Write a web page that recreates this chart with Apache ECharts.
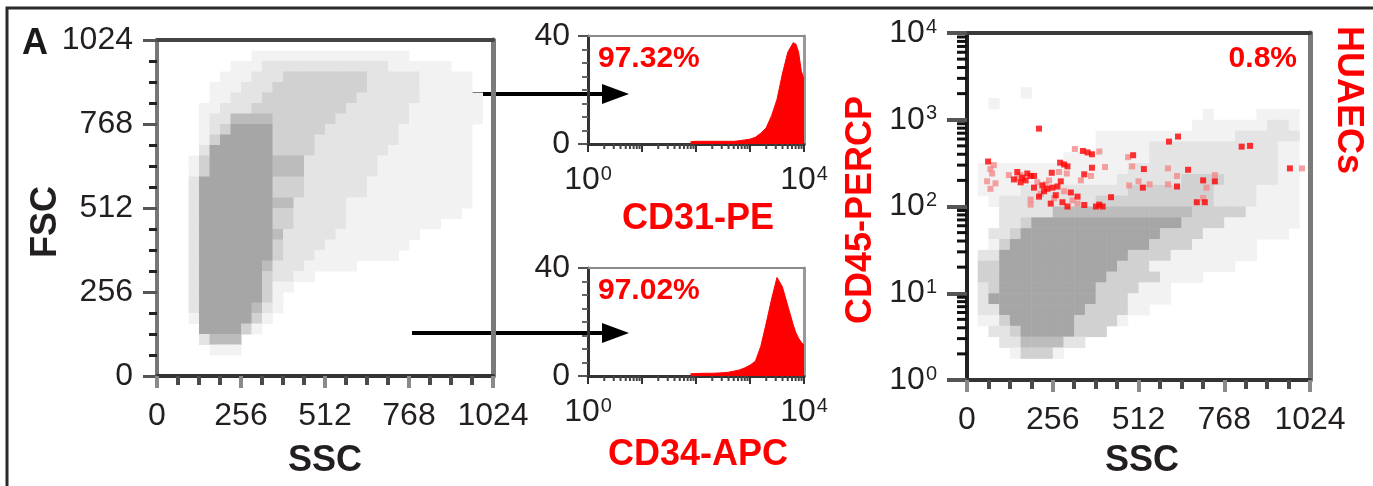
<!DOCTYPE html>
<html><head><meta charset="utf-8">
<script src="https://cdn.jsdelivr.net/npm/echarts/dist/echarts.min.js"></script>
<style>html,body{margin:0;padding:0;background:#fff}#c{width:1373px;height:486px}</style>
</head><body><div id="c"></div>
<script>
const FONT = '"Liberation Sans", Arial, Helvetica, sans-serif';

// ---------- DATA ----------
// Linear tick labels (SSC / FSC channels)
const CHANNEL_TICKS = [0, 256, 512, 768, 1024];
// Log decade tick values
const DECADES = [1, 10, 100, 1000, 10000];
const LOG_MINOR_TICKS = [2,3,4,5,6,7,8,9,20,30,40,50,60,70,80,90,200,300,400,500,600,700,800,900,2000,3000,4000,5000,6000,7000,8000,9000];

// FSC vs SSC density (rows: FSC 1024 -> 0 in 32-channel bins; cols: SSC 0 -> 1024), level 0..5
const FSC_SSC_DENSITY = [
"00000000000000000000000000000000",
"00000000011111111111111100000000",
"00000001112222222222221111110000",
"00000011122233333333222221111100",
"00000111222333333333222221111100",
"00000112223333333332222221111110",
"00001122233333333322222211111110",
"00001224444333333222222211111110",
"00001235555333332222222111111100",
"00001355555333322222222111111100",
"00002555555333322222221111111100",
"00013555555444222222211111111100",
"00013555555444222222211111111100",
"00025555555333222222111111111100",
"00025555555333222222111111111100",
"00025555555442222211111111111100",
"00025555555332222211111111111000",
"00025555555332222211111111100000",
"00025555555422222111111110000000",
"00025555555322221111111100000000",
"00025555555322211111111000000000",
"00025555554222111110000000000000",
"00025555553221100000000000000000",
"00025555553110000000000000000000",
"00025555553100000000000000000000",
"00025555542100000000000000000000",
"00015555531000000000000000000000",
"00005555310000000000000000000000",
"00002444000000000000000000000000",
"00000111000000000000000000000000",
"00000000000000000000000000000000",
"00000000000000000000000000000000"
];

// CD45 (log, rows 10^4 -> 10^0 in 1/8 decade) vs SSC (32-channel bins), level 0..5
const CD45_SSC_DENSITY = [
"00000000000000000000000000000000",
"00000000000000000000000000000000",
"00000000000000000000000000000000",
"00000000000000000000000000000000",
"00000000000000000000000000000000",
"00000100000000000000000000000000",
"00100000000000000000000000000000",
"00000000000000000000001000011110",
"00000000000000000000011111112210",
"00000000000011111111111112222220",
"00000000000011111222222222222110",
"00000000011111111222222222222110",
"01111111111111122222222222222110",
"01111111111111222222333322222110",
"01111222222222233333333222211110",
"00122222222233333333333222211110",
"00022222444444444444433333111110",
"00022355555555555555333311111110",
"00223555555555555533331111111100",
"00135555555555555333311111100000",
"02255555555555533331111111100000",
"03355555555555333111111110000000",
"03355555555553333311110000000000",
"02355555555533331110000000000000",
"02555555555533311110000000000000",
"02255555555333311000000000000000",
"01135555553333100000000000000000",
"00223555553330000000000000000000",
"00022444422000000000000000000000",
"00001333100000000000000000000000",
"00000000000000000000000000000000",
"00000000000000000000000000000000"
];

// HUAEC events (SSC, CD45-PerCP), strong and pale red
const HUAEC_STRONG = [
[215,790],[630,640],[603,560],[346,437],[373,400],[496,390],[63,330],[278,320],[300,290],[373,280],
[528,270],[660,265],[150,250],[180,240],[200,225],[253,245],[350,235],[140,205],[175,200],[280,195],
[705,200],[740,195],[200,165],[240,160],[270,170],[525,165],[627,170],[330,130],[430,128],[250,108],
[300,100],[350,104],[405,100],[385,100],[710,112],[964,275],[820,490],[845,500],[686,112],[165,215],
[230,150],[215,130],[290,305],[360,420],[190,225],[255,165],[285,112],[395,105],[225,175],[265,135],
[310,145],[160,190]
];
const HUAEC_PALE = [
[322,460],[395,430],[80,300],[70,270],[412,285],[600,275],[1000,275],[160,230],[298,240],[370,225],
[627,225],[740,230],[60,195],[85,185],[210,190],[340,200],[512,195],[70,160],[220,140],[290,150],
[715,165],[190,120],[260,125],[705,125],[190,105],[330,108],[600,180],[484,175],[493,290],[481,370],
[150,215],[235,180],[315,118],[75,240],[545,180],[245,200],[125,230],[275,250]
];

// Histograms: fluorescence intensity bins and event counts
const HIST_INTENSITY = [79.4,100,125.9,158.5,199.5,251.2,316.2,398.1,501.2,631,794.3,1000,1259,1585,1995,2512,3162,3981,5012,6310,7079,7943,8913,10000];
const CD31_COUNTS = [0.8,1,1,1,1,1,1,1,1,1.2,1.5,1.8,2.5,4,6,10.5,16.5,26,34,37.5,37,34,27,24];
const CD34_COUNTS = [0.8,0.9,1,1,1,1.1,1.2,1.4,1.8,2.2,3,4,5.5,11,19.5,28.5,36.5,33,26,19,16,14,12.5,11.5];

// ---------- BUILD ----------
const BIN = 32;
const SHADES = ['rgba(0,0,0,0)', '#f2f2f2', '#e4e4e4', '#d1d1d1', '#bcbcbc', '#a6a6a6'];

function buildLinear(rows) {
  const out = [];
  rows.forEach((row, r) => {
    for (let c = 0; c < row.length; c++) {
      const lv = +row[c];
      if (lv) out.push([c * BIN, 1024 - (r + 1) * BIN, lv]);
    }
  });
  return out;
}
function buildLog(rows) {
  const out = [];
  const n = rows.length;
  rows.forEach((row, r) => {
    const lo = Math.pow(10, 4 - 4 * (r + 1) / n), hi = Math.pow(10, 4 - 4 * r / n);
    for (let c = 0; c < row.length; c++) {
      const lv = +row[c];
      if (lv) out.push([c * BIN, lo, hi, lv]);
    }
  });
  return out;
}
const zip = (xs, ys) => xs.map((x, i) => [x, ys[i]]);

const numLabel = {fontFamily: FONT, fontSize: 32, color: '#231f20', formatter: v => String(v)};
const supRich = {
  b: {fontFamily: FONT, fontSize: 32, color: '#231f20'},
  s: {fontFamily: FONT, fontSize: 20, color: '#231f20', verticalAlign: 'top', padding: [0, 0, 0, 1]}
};
const supFmt = v => '{b|10}{s|' + Math.round(Math.log10(v)) + '}';
const endsSupFmt = v => { const e = Math.round(Math.log10(v)); return (e === 0 || e === 4) ? '{b|10}{s|' + e + '}' : ''; };

function borderX(grid, color, width) {
  return {gridIndex: grid, type: 'value', position: 'top', min: 0, max: 1, axisLine: {show: true, onZero: false, lineStyle: {color, width}},
    axisTick: {show: false}, axisLabel: {show: false}, splitLine: {show: false}};
}
function borderY(grid, color, width) {
  return {gridIndex: grid, type: 'value', position: 'right', min: 0, max: 1, axisLine: {show: true, onZero: false, lineStyle: {color, width}},
    axisTick: {show: false}, axisLabel: {show: false}, splitLine: {show: false}};
}
function channelX(grid) {
  return {gridIndex: grid, type: 'value', min: 0, max: 1024, interval: 256,
    axisLine: {onZero: false, lineStyle: {color: '#333', width: 4}},
    axisTick: {show: true, length: 12, lineStyle: {color: '#8a8a8a', width: 4}},
    minorTick: {show: true, splitNumber: 4, length: 9, lineStyle: {color: '#4a4a4a', width: 4}},
    splitLine: {show: false}, minorSplitLine: {show: false},
    axisLabel: Object.assign({margin: 24, showMinLabel: true, showMaxLabel: true}, numLabel)};
}
function histX(grid) {
  return {gridIndex: grid, type: 'log', logBase: 10, min: 1, max: 10000,
    axisLine: {onZero: false, lineStyle: {color: '#333', width: 3}},
    axisTick: {show: true, length: 8, lineStyle: {color: '#333', width: 2}},
    splitLine: {show: false},
    axisLabel: {margin: 20, formatter: endsSupFmt, rich: supRich, showMinLabel: true, showMaxLabel: true}};
}
function histY(grid) {
  return {gridIndex: grid, type: 'value', min: 0, max: 40, interval: 40,
    axisLine: {onZero: false, lineStyle: {color: '#333', width: 3}},
    axisTick: {show: true, length: 10, lineStyle: {color: '#555', width: 2}},
    minorTick: {show: true, splitNumber: 8, length: 6, lineStyle: {color: '#666', width: 2}},
    splitLine: {show: false}, minorSplitLine: {show: false},
    axisLabel: Object.assign({margin: 18}, numLabel)};
}

const option = {
  animation: false,
  backgroundColor: '#ffffff',
  grid: [
    {left: 157, top: 40, width: 336, height: 336},
    {left: 588, top: 36, width: 216, height: 108},
    {left: 588, top: 268, width: 216, height: 108},
    {left: 967, top: 33, width: 343, height: 347}
  ],
  xAxis: [
    channelX(0),
    borderX(0, '#444', 4),
    histX(1),
    borderX(1, '#8a8a8a', 2),
    histX(2),
    borderX(2, '#8a8a8a', 2),
    channelX(3),
    borderX(3, '#3a3a3a', 4)
  ],
  yAxis: [
    {gridIndex: 0, type: 'value', min: 0, max: 1024, interval: 256,
      axisLine: {onZero: false, lineStyle: {color: '#777', width: 4}},
      axisTick: {show: true, length: 14, lineStyle: {color: '#555', width: 3}},
      minorTick: {show: true, splitNumber: 4, length: 8, lineStyle: {color: '#222', width: 3}},
      splitLine: {show: false}, minorSplitLine: {show: false},
      axisLabel: Object.assign({margin: 24}, numLabel)},
    borderY(0, '#7a7a7a', 5),
    histY(1),
    borderY(1, '#999', 3),
    histY(2),
    borderY(2, '#999', 3),
    {gridIndex: 3, type: 'log', logBase: 10, min: 1, max: 10000,
      axisLine: {onZero: false, lineStyle: {color: '#222', width: 4}},
      axisTick: {show: true, length: 20, lineStyle: {color: '#555', width: 4}},
      splitLine: {show: false},
      axisLabel: {margin: 30, formatter: supFmt, rich: supRich}},
    borderY(3, '#7a7a7a', 5)
  ],
  series: [
    {type: 'custom', xAxisIndex: 0, yAxisIndex: 0, clip: true, silent: true,
      data: buildLinear(FSC_SSC_DENSITY),
      renderItem: (p, api) => {
        const x0 = api.value(0), y0 = api.value(1), lv = api.value(2);
        const a = api.coord([x0, y0 + BIN]), b = api.coord([x0 + BIN, y0]);
        return {type: 'rect', shape: {x: a[0], y: a[1], width: b[0] - a[0] + 0.5, height: b[1] - a[1] + 0.5}, style: {fill: SHADES[lv]}};
      }},
    {type: 'line', xAxisIndex: 2, yAxisIndex: 2, data: zip(HIST_INTENSITY, CD31_COUNTS), symbol: 'none',
      lineStyle: {color: '#ff0000', width: 1}, areaStyle: {color: '#ff0000', opacity: 1}, silent: true},
    {type: 'line', xAxisIndex: 4, yAxisIndex: 4, data: zip(HIST_INTENSITY, CD34_COUNTS), symbol: 'none',
      lineStyle: {color: '#ff0000', width: 1}, areaStyle: {color: '#ff0000', opacity: 1}, silent: true},
    {type: 'custom', xAxisIndex: 2, yAxisIndex: 2, clip: false, silent: true,
      data: LOG_MINOR_TICKS.map(v => [v, 0]),
      renderItem: (p, api) => { const q = api.coord([api.value(0), 0]);
        return {type: 'line', shape: {x1: q[0], y1: q[1], x2: q[0], y2: q[1] + 5}, style: {stroke: '#444', lineWidth: 2}}; }},
    {type: 'custom', xAxisIndex: 4, yAxisIndex: 4, clip: false, silent: true,
      data: LOG_MINOR_TICKS.map(v => [v, 0]),
      renderItem: (p, api) => { const q = api.coord([api.value(0), 0]);
        return {type: 'line', shape: {x1: q[0], y1: q[1], x2: q[0], y2: q[1] + 5}, style: {stroke: '#444', lineWidth: 2}}; }},
    {type: 'custom', xAxisIndex: 6, yAxisIndex: 6, clip: true, silent: true,
      data: buildLog(CD45_SSC_DENSITY),
      encode: {x: 0, y: 1},
      renderItem: (p, api) => {
        const x0 = api.value(0), lo = api.value(1), hi = api.value(2), lv = api.value(3);
        const a = api.coord([x0, hi]), b = api.coord([x0 + BIN, lo]);
        return {type: 'rect', shape: {x: a[0], y: a[1], width: b[0] - a[0] + 0.5, height: b[1] - a[1] + 0.5}, style: {fill: SHADES[lv]}};
      }},
    {type: 'custom', xAxisIndex: 6, yAxisIndex: 6, clip: false, silent: true,
      data: LOG_MINOR_TICKS.map(v => [0, v]),
      renderItem: (p, api) => { const q = api.coord([0, api.value(1)]);
        return {type: 'line', shape: {x1: q[0] - 10, y1: q[1], x2: q[0], y2: q[1]}, style: {stroke: '#111', lineWidth: 3}}; }},
    {type: 'scatter', xAxisIndex: 6, yAxisIndex: 6, data: HUAEC_PALE, symbol: 'rect', symbolSize: 6,
      itemStyle: {color: '#f48a8a'}, silent: true, z: 4},
    {type: 'scatter', xAxisIndex: 6, yAxisIndex: 6, data: HUAEC_STRONG, symbol: 'rect', symbolSize: 6,
      itemStyle: {color: '#ff0000'}, silent: true, z: 5}
  ],
  graphic: [
    {type: 'polyline', shape: {points: [[7, 486], [7, 8], [1373, 8]]}, style: {stroke: '#2a2a2a', lineWidth: 3, fill: null}, silent: true},
    {type: 'line', shape: {x1: 412, y1: 94, x2: 606, y2: 94}, style: {stroke: '#000', lineWidth: 4}, silent: true},
    {type: 'polygon', shape: {points: [[602, 84], [629, 94], [602, 104]]}, style: {fill: '#000'}, silent: true},
    {type: 'line', shape: {x1: 412, y1: 333, x2: 606, y2: 333}, style: {stroke: '#000', lineWidth: 4}, silent: true},
    {type: 'polygon', shape: {points: [[602, 323], [629, 333], [602, 343]]}, style: {fill: '#000'}, silent: true},
    {type: 'text', x: 35, y: 44, style: {text: 'A', font: 'bold 36px ' + FONT, fill: '#1a1a1a', align: 'center', verticalAlign: 'middle'}},
    {type: 'text', x: 46, y: 222, rotation: Math.PI / 2, style: {text: 'FSC', font: 'bold 36px ' + FONT, fill: '#231f20', align: 'center', verticalAlign: 'middle'}},
    {type: 'text', x: 325, y: 461, style: {text: 'SSC', font: 'bold 36px ' + FONT, fill: '#231f20', align: 'center', verticalAlign: 'middle'}},
    {type: 'text', x: 1142, y: 461, style: {text: 'SSC', font: 'bold 36px ' + FONT, fill: '#231f20', align: 'center', verticalAlign: 'middle'}},
    {type: 'text', x: 698, y: 219, style: {text: 'CD31-PE', font: 'bold 36px ' + FONT, fill: '#ff0000', align: 'center', verticalAlign: 'middle'}},
    {type: 'text', x: 698, y: 455, style: {text: 'CD34-APC', font: 'bold 36px ' + FONT, fill: '#ff0000', align: 'center', verticalAlign: 'middle'}},
    {type: 'text', x: 598, y: 59, style: {text: '97.32%', font: 'bold 30px ' + FONT, fill: '#ff0000', align: 'left', verticalAlign: 'middle'}},
    {type: 'text', x: 598, y: 291, style: {text: '97.02%', font: 'bold 30px ' + FONT, fill: '#ff0000', align: 'left', verticalAlign: 'middle'}},
    {type: 'text', x: 1297, y: 59, style: {text: '0.8%', font: 'bold 30px ' + FONT, fill: '#ff0000', align: 'right', verticalAlign: 'middle'}},
    {type: 'text', x: 861, y: 210, rotation: Math.PI / 2, style: {text: 'CD45-PERCP', font: 'bold 36px ' + FONT, fill: '#ff0000', align: 'center', verticalAlign: 'middle'}},
    {type: 'text', x: 1348, y: 100, rotation: -Math.PI / 2, style: {text: 'HUAECs', font: 'bold 36px ' + FONT, fill: '#ff0000', align: 'center', verticalAlign: 'middle'}}
  ]
};

const chart = echarts.init(document.getElementById('c'), null, {renderer: 'canvas'});
chart.setOption(option);
</script></body></html>
